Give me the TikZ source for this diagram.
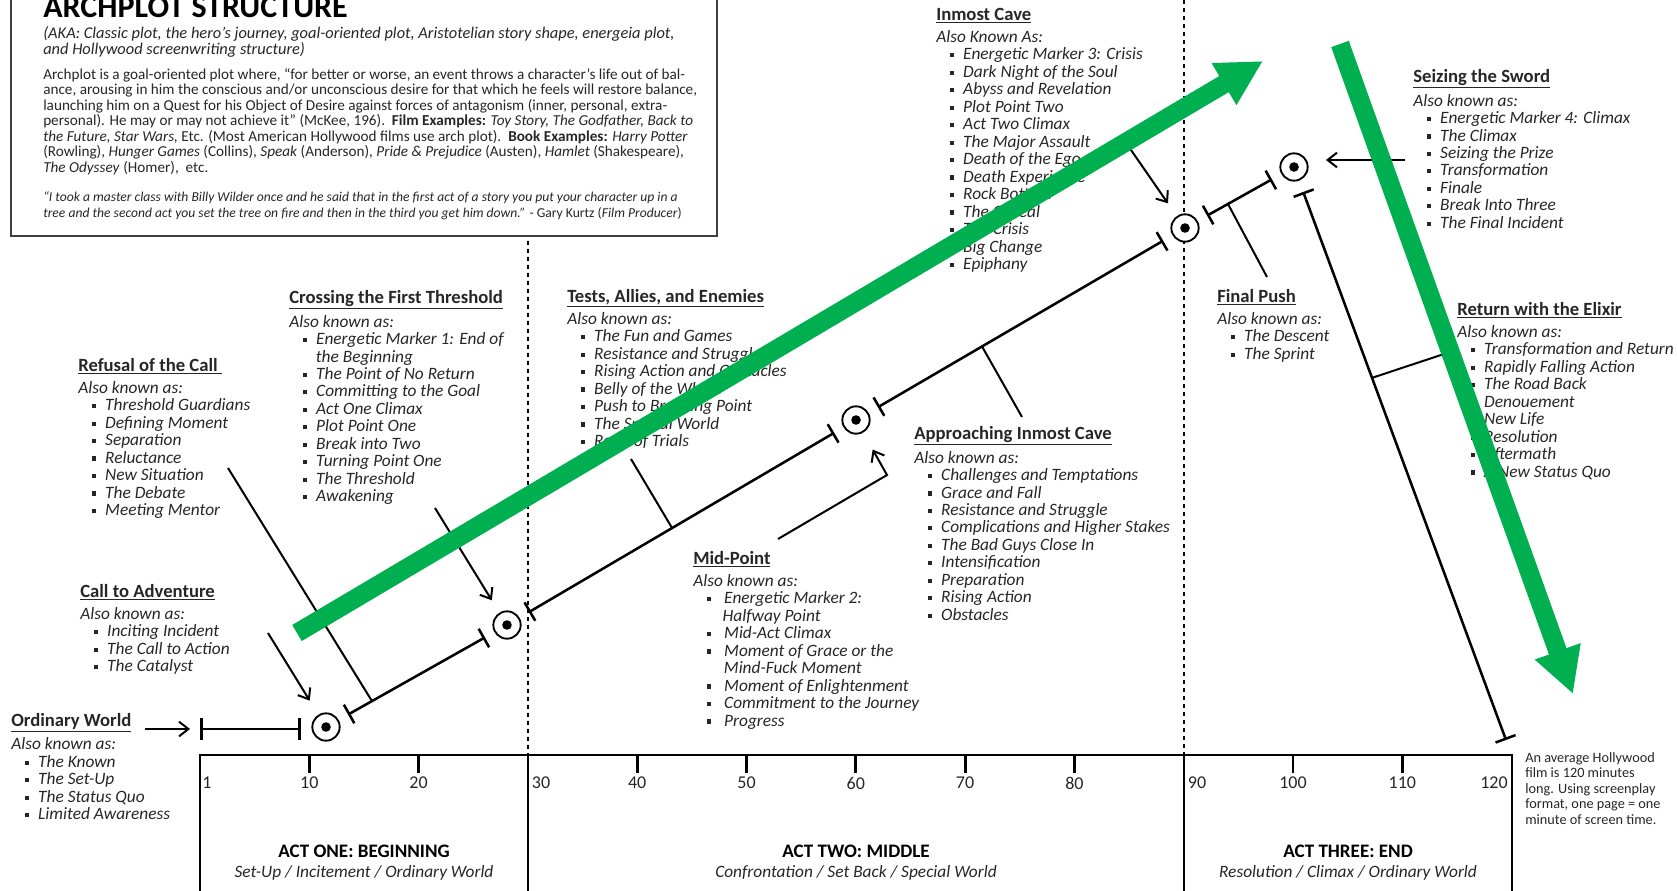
\documentclass[tikz,border=0pt]{standalone}
\usepackage{fontspec}
\setmainfont{Carlito}
\usetikzlibrary{arrows.meta,calc}
\definecolor{ArcGreen}{RGB}{0,176,80}
\definecolor{Ink}{HTML}{262626}
\newcommand\sqbullet{\raisebox{0.3ex}{\rule{3.2pt}{3.2pt}}}
\newcommand\bitem[2][7pt]{\hspace*{10pt}\sqbullet\hspace{#1}\textit{#2}}
\newcommand\bcont[2][20pt]{\hspace*{#1}\textit{#2}}
\newcommand\beathead[1]{{\fontsize{14}{13.1}\selectfont\bfseries\underline{#1}}\\[3.4pt]}

\begin{document}
\begin{tikzpicture}[x=0.75pt,y=-0.75pt,
    block/.style={anchor=north west,inner sep=0pt,align=left,text=Ink,
                  font=\fontsize{13}{13.1}\selectfont},
    hdr/.style={anchor=north west,inner sep=0pt,align=left,text=Ink},
    target/.style={circle,draw,fill=white,line width=1.4pt,minimum size=20.5pt,
                   inner sep=0pt,
                   path picture={\fill[black] (path picture bounding box.center) circle (3.6pt);}},
    seg/.style={line width=1.9pt,{Bar[width=16pt]}-{Bar[width=16pt]}},
    lead/.style={line width=1.5pt},
    pointer/.style={line width=1.5pt,-{Straight Barb[length=7pt,width=11pt]}},
    greenArrow/.style={ArcGreen,line width=14pt,-{Triangle[length=34pt,width=34pt]}},
    guide/.style={dash pattern=on 3pt off 3pt,line width=0.8pt},
    actLine/.style={line width=2.2pt},
    minTick/.style={line width=2.2pt},
    minLabel/.style={font=\fontsize{13.5}{15}\selectfont,text=Ink,inner sep=0pt},
    actTitle/.style={font=\fontsize{14.3}{16}\selectfont\bfseries,inner sep=0pt},
    actSub/.style={font=\fontsize{13}{15}\selectfont\itshape,text=Ink,inner sep=0pt}]
  \useasboundingbox (0,0) rectangle (1677,891);
  \clip (0,0) rectangle (1677,891);

  % header box
  \draw[line width=1.1pt,draw=black!75] (11,-20) rectangle (717,236);
  \node[anchor=base west,inner sep=0pt,font=\fontsize{24}{28}\selectfont\bfseries]
    (title) at (43,18) {ARCHPLOT STRUCTURE};
  \node[hdr,font=\fontsize{12.3}{12}\selectfont\itshape] (aka) at (43,26)
    {(AKA: Classic plot, the hero’s journey, goal-oriented plot, Aristotelian story shape, energeia plot,\\
     and Hollywood screenwriting structure)};
  \node[hdr,font=\fontsize{11.4}{11.6}\selectfont] (blurb) at (43,68)
    {Archplot is a goal-oriented plot where, “for better or worse, an event throws a character’s life out of bal-\\
     ance, arousing in him the conscious and/or unconscious desire for that which he feels will restore balance,\\
     launching him on a Quest for his Object of Desire against forces of antagonism (inner, personal, extra-\\
     personal). He may or may not achieve it” (McKee, 196).\ \ \textbf{Film Examples:} \textit{Toy Story, The Godfather, Back to}\\
     \textit{the Future, Star Wars,} Etc. (Most American Hollywood films use arch plot).\ \ \textbf{Book Examples:} \textit{Harry Potter}\\
     (Rowling), \textit{Hunger Games} (Collins), \textit{Speak} (Anderson), \textit{Pride \& Prejudice} (Austen), \textit{Hamlet} (Shakespeare),\\
     \textit{The Odyssey} (Homer),\ \ etc.};
  \node[hdr,font=\fontsize{10.2}{12}\selectfont] (quote) at (43,191)
    {\textit{“I took a master class with Billy Wilder once and he said that in the first act of a story you put your character up in a}\\
     \textit{tree and the second act you set the tree on fire and then in the third you get him down.”} - Gary Kurtz (\textit{Film Producer})};

  % act dividers and time axis
  \draw[guide] (528,241) -- (528,755);
  \draw[guide] (1184,0) -- (1184,755);
  \draw[actLine] (200,755) rectangle (1512,940);
  \draw[actLine] (528,755) -- (528,940);
  \draw[actLine] (1184,755) -- (1184,940);
  \foreach \m in {10,20,40,50,60,70,80,100,110}{%
    \draw[minTick] ({200+10.93*\m},755) -- ++(0,18);
    \node[minLabel] (min\m) at ({200+10.93*\m},783) {\m};
  }
  \node[minLabel] (min1) at (207,783) {1};
  \node[minLabel] (min30) at (541,783) {30};
  \node[minLabel] (min90) at (1197,783) {90};
  \node[minLabel] (min120) at (1494,783) {120};
  \node[actTitle] (actOne) at (364,851) {ACT ONE: BEGINNING};
  \node[actSub] (actOneSub) at (364,873) {Set-Up / Incitement / Ordinary World};
  \node[actTitle] (actTwo) at (856,851) {ACT TWO: MIDDLE};
  \node[actSub] (actTwoSub) at (856,873) {Confrontation / Set Back / Special World};
  \node[actTitle] (actThree) at (1348,851) {ACT THREE: END};
  \node[actSub] (actThreeSub) at (1348,873) {Resolution / Climax / Ordinary World};
  \node[hdr,font=\fontsize{10.7}{11.7}\selectfont] (note) at (1525,752)
    {An average Hollywood\\ film is 120 minutes\\ long. Using screenplay\\ format, one page = one\\ minute of screen time.};

  % stage labels
  \node[block] (ordWorld) at (11,713) {\beathead{Ordinary World}
    \textit{Also known as:}\\
    \bitem{The Known}\\ \bitem{The Set-Up}\\ \bitem{The Status Quo}\\ \bitem{Limited Awareness}};
  \node[block] (callAdv) at (80,584) {\beathead{Call to Adventure}
    \textit{Also known as:}\\
    \bitem{Inciting Incident}\\ \bitem{The Call to Action}\\ \bitem{The Catalyst}};
  \node[block] (refusal) at (78,358) {\beathead{Refusal of the Call\ }
    \textit{Also known as:}\\
    \bitem{Threshold Guardians}\\ \bitem{Defining Moment}\\ \bitem{Separation}\\
    \bitem{Reluctance}\\ \bitem{New Situation}\\ \bitem{The Debate}\\ \bitem{Meeting Mentor}};
  \node[block] (crossing) at (289,290) {\beathead{Crossing the First Threshold}
    \textit{Also known as:}\\
    \bitem{Energetic Marker 1: End of}\\ \bcont{the Beginning}\\
    \bitem{The Point of No Return}\\ \bitem{Committing to the Goal}\\
    \bitem{Act One Climax}\\ \bitem{Plot Point One}\\ \bitem{Break into Two}\\
    \bitem{Turning Point One}\\ \bitem{The Threshold}\\ \bitem{Awakening}};
  \node[block] (tests) at (567,289) {\beathead{Tests, Allies, and Enemies}
    \textit{Also known as:}\\
    \bitem{The Fun and Games}\\ \bitem{Resistance and Struggle}\\
    \bitem{Rising Action and Obstacles}\\ \bitem{Belly of the Whale}\\
    \bitem{Push to Breaking Point}\\ \bitem{The Special World}\\ \bitem{Road of Trials}};
  \node[block] (midPoint) at (693,551) {\beathead{Mid-Point}
    \textit{Also known as:}\\
    \bitem[10pt]{Energetic Marker 2:}\\ \bcont[22pt]{Halfway Point}\\
    \bitem[10pt]{Mid-Act Climax}\\ \bitem[10pt]{Moment of Grace or the}\\
    \bcont[23pt]{Mind-Fuck Moment}\\ \bitem[10pt]{Moment of Enlightenment}\\
    \bitem[10pt]{Commitment to the Journey}\\ \bitem[10pt]{Progress}};
  \node[block] (approach) at (914,426) {\beathead{Approaching Inmost Cave}
    \textit{Also known as:}\\
    \bitem{Challenges and Temptations}\\ \bitem{Grace and Fall}\\
    \bitem{Resistance and Struggle}\\ \bitem{Complications and Higher Stakes}\\
    \bitem{The Bad Guys Close In}\\ \bitem{Intensification}\\ \bitem{Preparation}\\
    \bitem{Rising Action}\\ \bitem{Obstacles}};
  \node[block] (inmost) at (936,8) {\beathead{Inmost Cave}
    \textit{Also Known As:}\\
    \bitem{Energetic Marker 3: Crisis}\\ \bitem{Dark Night of the Soul}\\
    \bitem{Abyss and Revelation}\\ \bitem{Plot Point Two}\\ \bitem{Act Two Climax}\\
    \bitem{The Major Assault}\\ \bitem{Death of the Ego}\\ \bitem{Death Experience}\\
    \bitem{Rock Bottom}\\ \bitem{The Ordeal}\\ \bitem{The Crisis}\\
    \bitem{Big Change}\\ \bitem{Epiphany}};
  \node[block] (finalPush) at (1217,289) {\beathead{Final Push}
    \textit{Also known as:}\\
    \bitem{The Descent}\\ \bitem{The Sprint}};
  \node[block] (seizing) at (1413,69) {\beathead{Seizing the Sword}
    \textit{Also known as:}\\
    \bitem{Energetic Marker 4: Climax}\\ \bitem{The Climax}\\ \bitem{Seizing the Prize}\\
    \bitem{Transformation}\\ \bitem{Finale}\\ \bitem{Break Into Three}\\
    \bitem{The Final Incident}};
  \node[block] (elixir) at (1457,302) {\beathead{Return with the Elixir}
    \textit{Also known as:}\\
    \bitem{Transformation and Return}\\ \bitem{Rapidly Falling Action}\\
    \bitem{The Road Back}\\ \bitem{Denouement}\\ \bitem{New Life}\\
    \bitem{Resolution}\\ \bitem{Aftermath}\\ \bitem{A New Status Quo}};

  % energetic markers
  \node[target] (t1) at (326,727) {};
  \node[target] (t2) at (507,625) {};
  \node[target] (t3) at (856,420) {};
  \node[target] (t4) at (1185,228) {};
  \node[target] (t5) at (1294,167) {};
  \coordinate (owStart) at (200,729);
  \coordinate (elixEnd) at (1506,740);

  % story stretches between markers
  \draw[seg,shorten >=18.75pt] (owStart) -- (owStart -| t1);
  \draw[seg,shorten <=8pt,shorten >=8pt] (t1) -- (t2);
  \draw[seg,shorten <=8pt,shorten >=8pt] (t2) -- (t3);
  \draw[seg,shorten <=8pt,shorten >=8pt] (t3) -- (t4);
  \draw[seg,shorten <=8pt,shorten >=8pt] (t4) -- (t5);
  \draw[seg,shorten <=9pt] (t5) -- (elixEnd);

  % leaders from labels to stretches
  \coordinate (refFrom) at (228,468);
  \coordinate (testsFrom) at (631,459);
  \coordinate (approachFrom) at (1022,417);
  \coordinate (finalFrom) at (1267,277);
  \coordinate (elixFrom) at (1444,354);
  \draw[lead] (refFrom) -- ($(t1)!0.254!(t2)$);
  \draw[lead] (testsFrom) -- ($(t2)!0.473!(t3)$);
  \draw[lead] (approachFrom) -- ($(t3)!0.383!(t4)$);
  \draw[lead] (finalFrom) -- ($(t4)!0.394!(t5)$);
  \draw[lead] (elixFrom) -- ($(t5)!0.368!(elixEnd)$);

  % arrows onto markers
  \coordinate (owFrom) at (145,729);
  \coordinate (callFrom) at (268,633);
  \coordinate (crossFrom) at (435,508);
  \coordinate (mpFrom) at (778,539);
  \coordinate (mpBend) at (887,475);
  \coordinate (inmostFrom) at (1122,137);
  \coordinate (seizeFrom) at (1405,160);
  \draw[pointer,shorten >=7.5pt] (owFrom) -- (owStart);
  \draw[pointer,shorten >=12.3pt] (callFrom) -- (t1);
  \draw[pointer,shorten >=10.8pt] (crossFrom) -- (t2);
  \draw[pointer,shorten >=14.5pt] (mpFrom) -- (mpBend) -- (t3);
  \draw[pointer,shorten >=11.5pt] (inmostFrom) -- (t4);
  \draw[pointer,shorten >=24pt] (seizeFrom) -- (seizeFrom -| t5);

  % rising and falling action
  \coordinate (riseTail) at (297,633);
  \coordinate (riseTip) at (1263,61);
  \coordinate (fallTail) at (1340,44);
  \coordinate (fallTip) at (1573,694);
  \draw[greenArrow] (riseTail) -- (riseTip);
  \draw[greenArrow] (fallTail) -- (fallTip);
\end{tikzpicture}
\end{document}
